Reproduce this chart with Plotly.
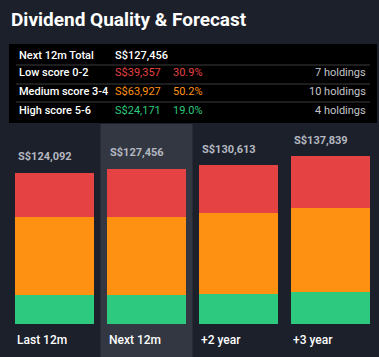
import plotly.graph_objects as go

# ---- data ----
periods = ["Last 12m", "Next 12m", "+2 year", "+3 year"]
low_vals = [36190, 39357, 39400, 42600]
med_vals = [64100, 63927, 66300, 69000]
high_vals = [23802, 24171, 24913, 26239]
total_labels = ["S$124,092", "S$127,456", "S$130,613", "S$137,839"]
totals = [124092, 127456, 130613, 137839]

summary_label = "Next 12m Total"
summary_value = "S$127,456"
tier_names = ["Low score 0-2", "Medium score 3-4", "High score 5-6"]
tier_values = ["S$39,357", "S$63,927", "S$24,171"]
tier_pcts = ["30.9%", "50.2%", "19.0%"]
tier_holdings = ["7 holdings", "10 holdings", "4 holdings"]

# ---- styles ----
W, H = 379, 357
BG = "#1c202b"
HILITE = "#323741"
RED = "#e54343"
ORANGE = "#ff9112"
GREEN = "#2dc97e"
tier_colors = [RED, ORANGE, GREEN]
FONT = "Roboto"

def px(x):
    return x / W

def py(y):
    return 1 - y / H

fig = go.Figure()
for vals, col, name in [(high_vals, GREEN, "High"), (med_vals, ORANGE, "Medium"), (low_vals, RED, "Low")]:
    fig.add_trace(go.Bar(x=periods, y=vals, marker=dict(color=col, line=dict(width=0)),
                         width=0.8587, name=name, hoverinfo="skip", showlegend=False))

k = 821.5  # value per pixel
fig.update_layout(
    width=W, height=H, margin=dict(l=0, r=0, t=0, b=0),
    paper_bgcolor=BG, plot_bgcolor="rgba(0,0,0,0)",
    barmode="stack", bargap=0,
    xaxis=dict(type="category", range=[-54.5 / 92, (W - 54.5) / 92], visible=False, fixedrange=True),
    yaxis=dict(range=[-33 * k, 324 * k], visible=False, fixedrange=True),
    showlegend=False,
)

shapes = []
# highlight column for Next 12m
shapes.append(dict(type="rect", xref="x", yref="paper", x0=0.5, x1=1.5, y0=0, y1=py(124),
                   fillcolor=HILITE, line=dict(width=0), layer="below"))
# table box
shapes.append(dict(type="rect", xref="paper", yref="paper", x0=px(9), x1=px(377), y0=py(123), y1=py(44),
                   fillcolor="#000000", line=dict(width=0), layer="above"))
for yy in [65, 84, 102]:
    shapes.append(dict(type="line", xref="paper", yref="paper", x0=px(16), x1=px(370), y0=py(yy), y1=py(yy),
                       line=dict(color="#3c3c3c", width=1), layer="above"))
fig.update_layout(shapes=shapes)

ann = []
ann.append(dict(text="<b>Dividend Quality & Forecast</b>", xref="paper", yref="paper", x=px(9), y=py(19),
                xanchor="left", yanchor="middle", showarrow=False,
                font=dict(family=FONT, size=19, color="#ffffff")))
# table
rows_y = [55, 73, 91, 110]
ann.append(dict(text=summary_label, xref="paper", yref="paper", x=px(17), y=py(rows_y[0]), xanchor="left",
                yanchor="middle", showarrow=False, font=dict(family=FONT, size=11, color="#ffffff", weight=500)))
ann.append(dict(text=summary_value, xref="paper", yref="paper", x=px(113), y=py(rows_y[0]), xanchor="left",
                yanchor="middle", showarrow=False, font=dict(family=FONT, size=11, color="#ffffff", weight=500)))
for i in range(3):
    yv = py(rows_y[i + 1])
    ann.append(dict(text=tier_names[i], xref="paper", yref="paper", x=px(17), y=yv, xanchor="left",
                    yanchor="middle", showarrow=False, font=dict(family=FONT, size=11, color="#ffffff", weight=500)))
    ann.append(dict(text=tier_values[i], xref="paper", yref="paper", x=px(113), y=yv, xanchor="left",
                    yanchor="middle", showarrow=False, font=dict(family=FONT, size=11, color=tier_colors[i])))
    ann.append(dict(text=tier_pcts[i], xref="paper", yref="paper", x=px(171), y=yv, xanchor="left",
                    yanchor="middle", showarrow=False, font=dict(family=FONT, size=11, color=tier_colors[i])))
    ann.append(dict(text=tier_holdings[i], xref="paper", yref="paper", x=px(368), y=yv, xanchor="right",
                    yanchor="middle", showarrow=False, font=dict(family=FONT, size=11, color="#c4c6ca")))
# bar labels
for p, t, lab in zip(periods, totals, total_labels):
    ann.append(dict(text="<b>" + lab + "</b>", x=p, y=t, xref="x", yref="y", xanchor="left", yanchor="middle",
                    xshift=-38.5, yshift=16, showarrow=False,
                    font=dict(family=FONT, size=11, color="#b4b8c0")))
    ann.append(dict(text=p, x=p, y=0, xref="x", yref="y", xanchor="left", yanchor="middle",
                    xshift=-39.5, yshift=-16, showarrow=False,
                    font=dict(family=FONT, size=12, color="#ffffff", weight=500)))
fig.update_layout(annotations=ann)

fig.write_html("out.html", config={"displayModeBar": False},
               post_script="document.body.style.margin='0';document.body.style.overflow='hidden';"
                           "document.body.style.background='" + BG + "';")
